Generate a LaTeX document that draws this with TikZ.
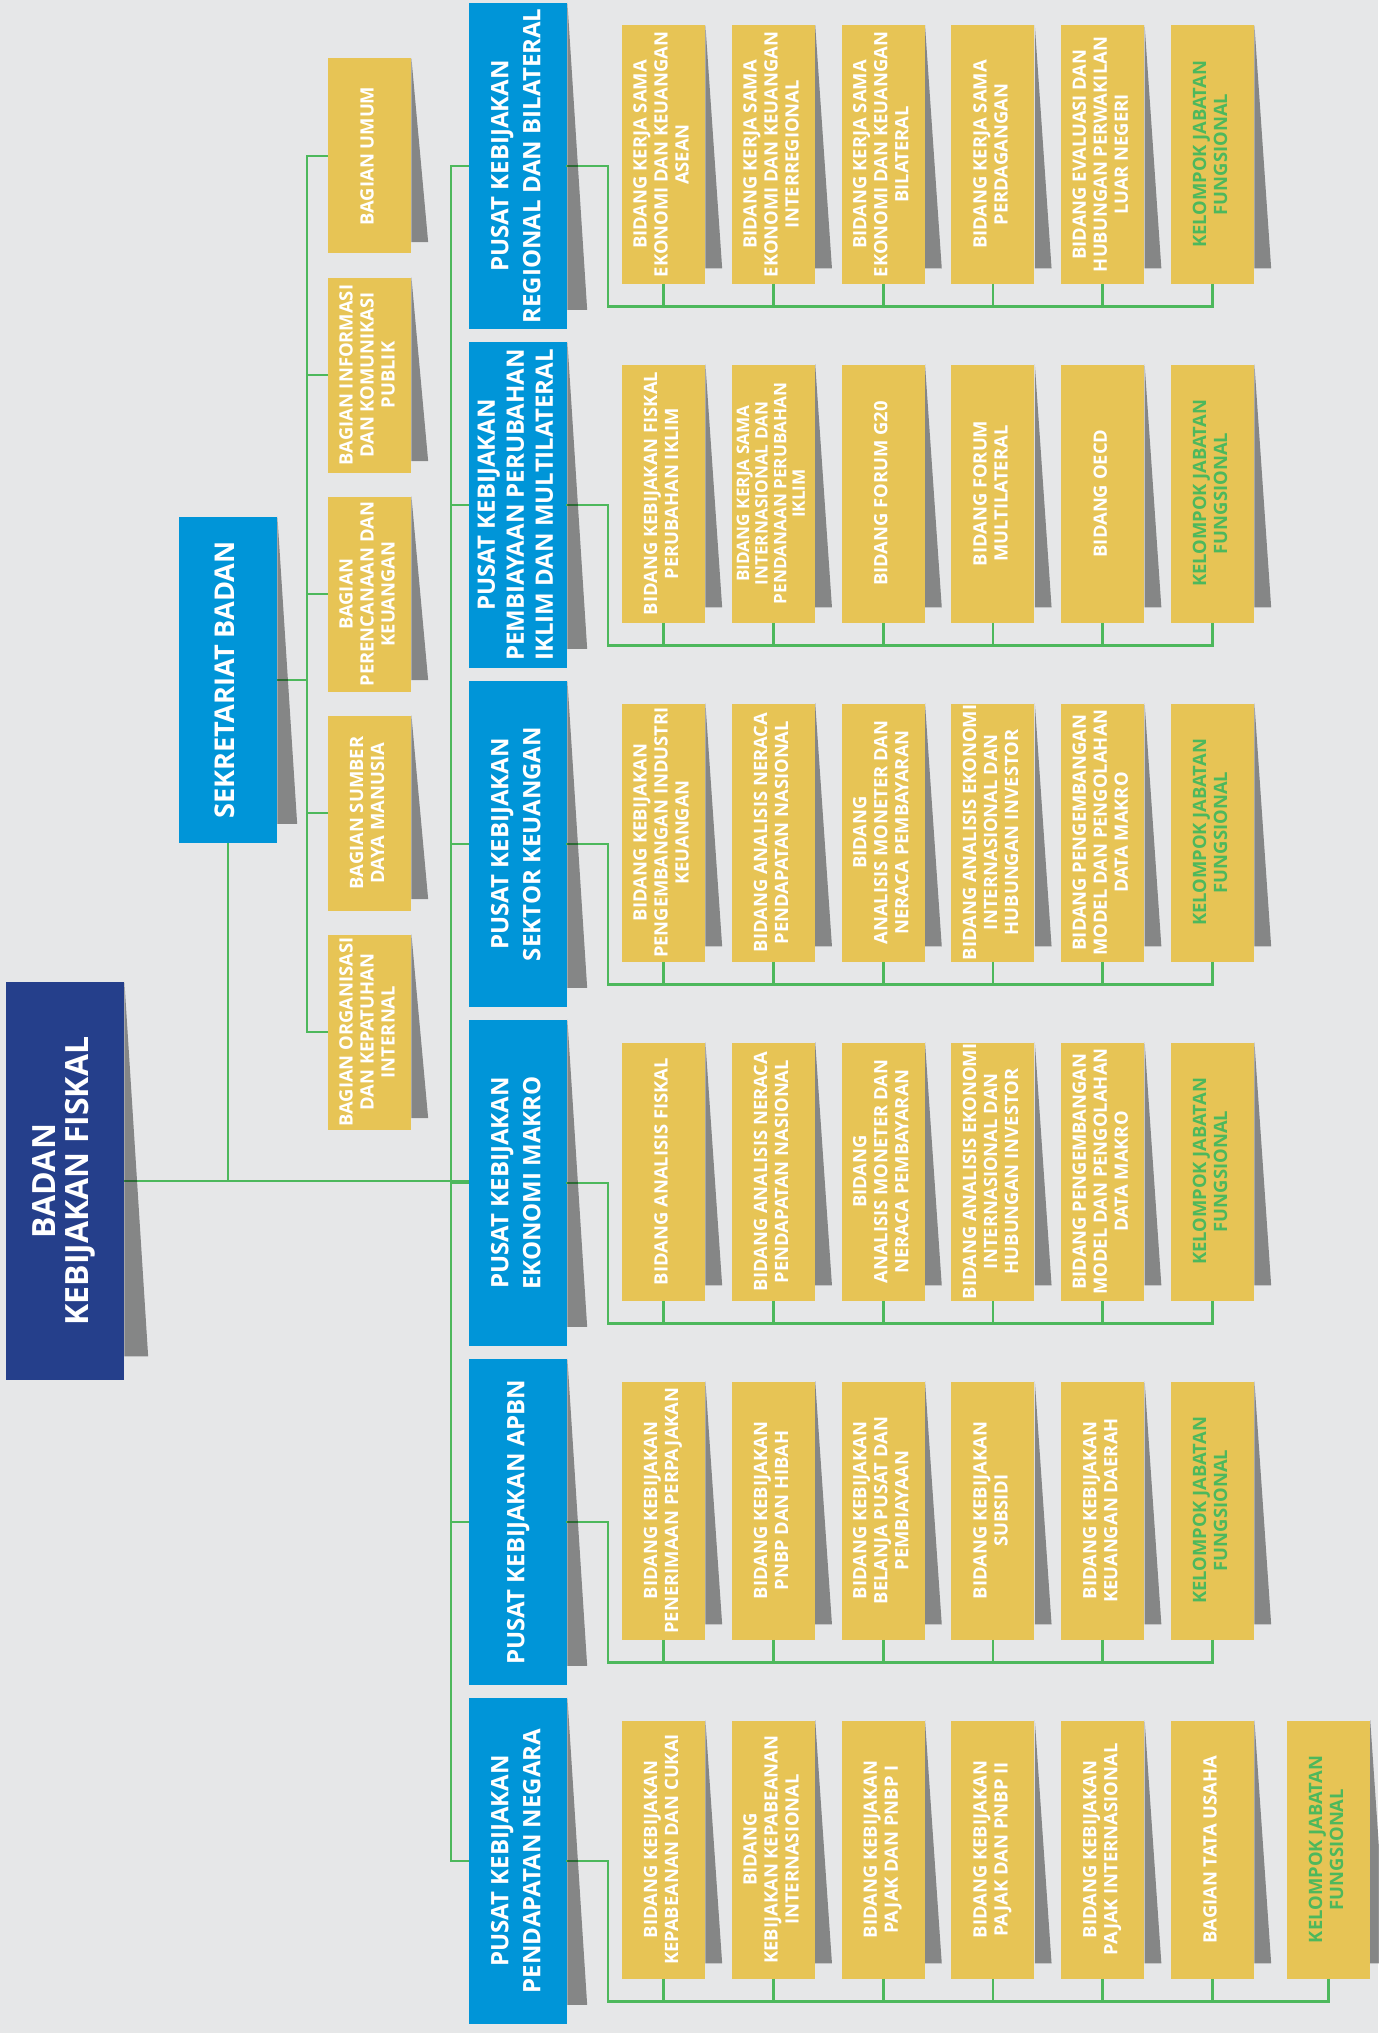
\documentclass[tikz,border=0pt]{standalone}
\usepackage{fontspec}
\setmainfont{Open Sans}
\usetikzlibrary{positioning,calc}
\definecolor{bg}{HTML}{E6E7E8}
\definecolor{navy}{HTML}{253F8B}
\definecolor{sky}{HTML}{0095D8}
\definecolor{mustard}{HTML}{E7C455}
\definecolor{leaf}{HTML}{4DB85C}
\newcommand{\uprot}[1]{\rotatebox{90}{\begin{tabular}{@{}c@{}}#1\end{tabular}}}
\newcommand{\curl}[1]{%
  \fill[black,opacity=.42] let \p1=(#1.north east), \p2=(#1.south west) in
    (\p1) -- (\x1+.2*\x1-.2*\x2,\y2+.06*\y1-.06*\y2) -- (\x1,\y2+.06*\y1-.06*\y2) -- cycle;}
\tikzset{
  head/.style={fill=navy,text=white,inner sep=0pt,minimum width=59pt,minimum height=199pt,font=\bfseries\fontsize{16}{16}\selectfont},
  pusat/.style={fill=sky,text=white,inner sep=0pt,minimum width=49pt,minimum height=163pt,font=\bfseries\fontsize{12}{16}\selectfont},
  unit/.style={fill=mustard,text=white,inner sep=0pt,minimum width=41.5pt,minimum height=129pt,font=\bfseries\fontsize{9.2}{10.5}\selectfont},
  bagian/.style={unit,minimum height=97.5pt},
  kjf/.style={unit,text=leaf},
  link/.style={draw=leaf,line width=1.4pt},
  bus/.style={link,line cap=rect},
}

\begin{document}
\begin{tikzpicture}[x=0.5pt,y=-0.5pt]
\fill[bg] (0,0) rectangle (1378,2033);
\useasboundingbox (0,0) rectangle (1378,2033);

% top of the tree
\node[head] (badan) at (65,1181) {\uprot{BADAN\\KEBIJAKAN FISKAL}};
\node[pusat,font=\bfseries\fontsize{13.6}{16}\selectfont] (sekre) at (228,680) {\uprot{SEKRETARIAT BADAN}};

% bagian under the sekretariat
\node[bagian] (bag1) at (369.5,156) {\uprot{BAGIAN UMUM}};
\node[bagian] (bag2) at (369.5,375) {\uprot{BAGIAN INFORMASI\\DAN KOMUNIKASI\\PUBLIK}};
\node[bagian] (bag3) at (369.5,594) {\uprot{BAGIAN\\PERENCANAAN DAN\\KEUANGAN}};
\node[bagian] (bag4) at (369.5,813) {\uprot{BAGIAN SUMBER\\DAYA MANUSIA}};
\node[bagian] (bag5) at (369.5,1032) {\uprot{BAGIAN ORGANISASI\\DAN KEPATUHAN\\INTERNAL}};

% pusat
\node[pusat] (p1) at (518,166) {\uprot{PUSAT KEBIJAKAN\\REGIONAL DAN BILATERAL}};
\node[pusat,font=\bfseries\fontsize{12}{14.5}\selectfont] (p2) at (518,505) {\uprot{PUSAT KEBIJAKAN\\PEMBIAYAAN PERUBAHAN\\IKLIM DAN MULTILATERAL}};
\node[pusat] (p3) at (518,844) {\uprot{PUSAT KEBIJAKAN\\SEKTOR KEUANGAN}};
\node[pusat] (p4) at (518,1183) {\uprot{PUSAT KEBIJAKAN\\EKONOMI MAKRO}};
\node[pusat] (p5) at (518,1522) {\uprot{PUSAT KEBIJAKAN APBN}};
\node[pusat] (p6) at (518,1861) {\uprot{PUSAT KEBIJAKAN\\PENDAPATAN NEGARA}};

% row 1
\node[unit] (b1-1) at (663.5,154.5) {\uprot{BIDANG KERJA SAMA\\EKONOMI DAN KEUANGAN\\ASEAN}};
\node[unit,right=13pt of b1-1] (b1-2) {\uprot{BIDANG KERJA SAMA\\EKONOMI DAN KEUANGAN\\INTERREGIONAL}};
\node[unit,right=13pt of b1-2] (b1-3) {\uprot{BIDANG KERJA SAMA\\EKONOMI DAN KEUANGAN\\BILATERAL}};
\node[unit,right=13pt of b1-3] (b1-4) {\uprot{BIDANG KERJA SAMA\\PERDAGANGAN}};
\node[unit,right=13pt of b1-4] (b1-5) {\uprot{BIDANG EVALUASI DAN\\HUBUNGAN PERWAKILAN\\LUAR NEGERI}};
\node[kjf,right=13pt of b1-5] (b1-6) {\uprot{KELOMPOK JABATAN\\FUNGSIONAL}};

% row 2
\node[unit] (b2-1) at (663.5,493.5) {\uprot{BIDANG KEBIJAKAN FISKAL\\PERUBAHAN IKLIM}};
\node[unit,right=13pt of b2-1,font=\bfseries\fontsize{8.6}{9.3}\selectfont] (b2-2) {\uprot{BIDANG KERJA SAMA\\INTERNASIONAL DAN\\PENDANAAN PERUBAHAN\\IKLIM}};
\node[unit,right=13pt of b2-2] (b2-3) {\uprot{BIDANG FORUM G20}};
\node[unit,right=13pt of b2-3] (b2-4) {\uprot{BIDANG FORUM\\MULTILATERAL}};
\node[unit,right=13pt of b2-4] (b2-5) {\uprot{BIDANG OECD}};
\node[kjf,right=13pt of b2-5] (b2-6) {\uprot{KELOMPOK JABATAN\\FUNGSIONAL}};

% row 3
\node[unit] (b3-1) at (663.5,832.5) {\uprot{BIDANG KEBIJAKAN\\PENGEMBANGAN INDUSTRI\\KEUANGAN}};
\node[unit,right=13pt of b3-1] (b3-2) {\uprot{BIDANG ANALISIS NERACA\\PENDAPATAN NASIONAL}};
\node[unit,right=13pt of b3-2] (b3-3) {\uprot{BIDANG\\ANALISIS MONETER DAN\\NERACA PEMBAYARAN}};
\node[unit,right=13pt of b3-3] (b3-4) {\uprot{BIDANG ANALISIS EKONOMI\\INTERNASIONAL DAN\\HUBUNGAN INVESTOR}};
\node[unit,right=13pt of b3-4] (b3-5) {\uprot{BIDANG PENGEMBANGAN\\MODEL DAN PENGOLAHAN\\DATA MAKRO}};
\node[kjf,right=13pt of b3-5] (b3-6) {\uprot{KELOMPOK JABATAN\\FUNGSIONAL}};

% row 4
\node[unit] (b4-1) at (663.5,1171.5) {\uprot{BIDANG ANALISIS FISKAL}};
\node[unit,right=13pt of b4-1] (b4-2) {\uprot{BIDANG ANALISIS NERACA\\PENDAPATAN NASIONAL}};
\node[unit,right=13pt of b4-2] (b4-3) {\uprot{BIDANG\\ANALISIS MONETER DAN\\NERACA PEMBAYARAN}};
\node[unit,right=13pt of b4-3] (b4-4) {\uprot{BIDANG ANALISIS EKONOMI\\INTERNASIONAL DAN\\HUBUNGAN INVESTOR}};
\node[unit,right=13pt of b4-4] (b4-5) {\uprot{BIDANG PENGEMBANGAN\\MODEL DAN PENGOLAHAN\\DATA MAKRO}};
\node[kjf,right=13pt of b4-5] (b4-6) {\uprot{KELOMPOK JABATAN\\FUNGSIONAL}};

% row 5
\node[unit] (b5-1) at (663.5,1510.5) {\uprot{BIDANG KEBIJAKAN\\PENERIMAAN PERPAJAKAN}};
\node[unit,right=13pt of b5-1] (b5-2) {\uprot{BIDANG KEBIJAKAN\\PNBP DAN HIBAH}};
\node[unit,right=13pt of b5-2] (b5-3) {\uprot{BIDANG KEBIJAKAN\\BELANJA PUSAT DAN\\PEMBIAYAAN}};
\node[unit,right=13pt of b5-3] (b5-4) {\uprot{BIDANG KEBIJAKAN\\SUBSIDI}};
\node[unit,right=13pt of b5-4] (b5-5) {\uprot{BIDANG KEBIJAKAN\\KEUANGAN DAERAH}};
\node[kjf,right=13pt of b5-5] (b5-6) {\uprot{KELOMPOK JABATAN\\FUNGSIONAL}};

% row 6
\node[unit] (b6-1) at (663.5,1849.5) {\uprot{BIDANG KEBIJAKAN\\KEPABEANAN DAN CUKAI}};
\node[unit,right=13pt of b6-1] (b6-2) {\uprot{BIDANG\\KEBIJAKAN KEPABEANAN\\INTERNASIONAL}};
\node[unit,right=13pt of b6-2] (b6-3) {\uprot{BIDANG KEBIJAKAN\\PAJAK DAN PNBP I}};
\node[unit,right=13pt of b6-3] (b6-4) {\uprot{BIDANG KEBIJAKAN\\PAJAK DAN PNBP II}};
\node[unit,right=13pt of b6-4] (b6-5) {\uprot{BIDANG KEBIJAKAN\\PAJAK INTERNASIONAL}};
\node[unit,right=13pt of b6-5] (b6-6) {\uprot{BAGIAN TATA USAHA}};
\node[kjf,right=16pt of b6-6] (b6-7) {\uprot{KELOMPOK JABATAN\\FUNGSIONAL}};

% connectors
\coordinate (trunk) at (451,0);
\coordinate (sbus) at (307,0);
\foreach \r/\y in {1/166,2/505,3/844,4/1183,5/1522,6/1861}
  \coordinate (j\r) at (608,{\y+140.5});

\draw[link] (badan.east) -- (badan.east -| p4.west);
\draw[link] (sekre.south) -- (sekre.south |- badan.east);
\draw[link] (sekre.east) -- (sekre.east -| sbus);
\draw[bus] (bag1.west -| sbus) -- (bag5.west -| sbus);
\foreach \k in {1,...,5}
  \draw[link] (bag\k.west -| sbus) -- (bag\k.west);
\draw[bus] (p1.west -| trunk) -- (p6.west -| trunk);
\foreach \r in {1,...,6}
  \draw[link] (p\r.west -| trunk) -- (p\r.west);
\foreach \r/\cnt in {1/6,2/6,3/6,4/6,5/6,6/7}{
  \draw[bus] (p\r.east) -- (p\r.east -| j\r) -- (j\r) -- (j\r -| b\r-\cnt.south);
  \foreach \k in {1,...,\cnt}
    \draw[link] (b\r-\k.south) -- (b\r-\k.south |- j\r);
}

% folded shadows
\foreach \nm in {badan,sekre,bag1,bag2,bag3,bag4,bag5,p1,p2,p3,p4,p5,p6}
  \curl{\nm};
\foreach \r/\cnt in {1/6,2/6,3/6,4/6,5/6,6/7}
  \foreach \k in {1,...,\cnt}
    \curl{b\r-\k};
\end{tikzpicture}
\end{document}
